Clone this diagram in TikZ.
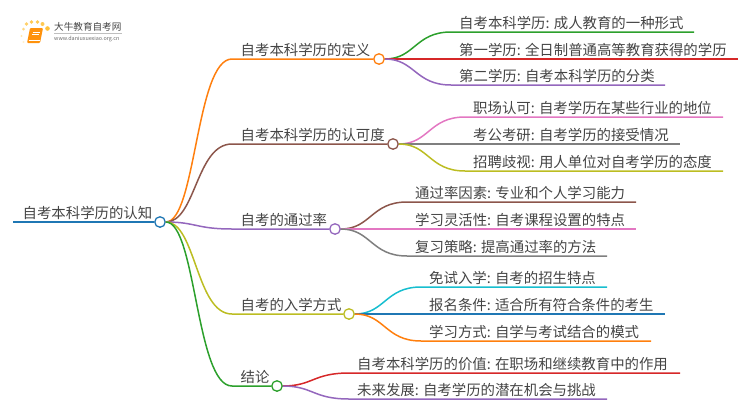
\documentclass[tikz,border=0pt]{standalone}
\usepackage{fontspec}
\setmainfont{Noto Sans CJK SC}
\usetikzlibrary{calc,positioning}
\definecolor{ink}{HTML}{444444}
\definecolor{cblue}{HTML}{1F77B4}
\definecolor{corange}{HTML}{FF7F0E}
\definecolor{cgreen}{HTML}{2CA02C}
\definecolor{cred}{HTML}{D62728}
\definecolor{cpurple}{HTML}{9467BD}
\definecolor{cbrown}{HTML}{8C564B}
\definecolor{cpink}{HTML}{E377C2}
\definecolor{cgray}{HTML}{7F7F7F}
\definecolor{colive}{HTML}{BCBD22}
\definecolor{ccyan}{HTML}{17BECF}
\tikzset{
  hub/.style={circle,draw=#1,fill=white,line width=1.3pt,minimum size=10.5pt,inner sep=0pt},
  label/.style={anchor=base west,inner sep=0pt,text=ink,font=\fontsize{14.4}{17}\selectfont},
  wire/.style={draw=#1,line width=1.5pt}
}
\begin{document}
\begin{tikzpicture}[x=1pt,y=-1pt]
  \useasboundingbox (0,0) rectangle (750,410);
  % logo
  \foreach \dx/\dy/\r/\o in {23.5/29/1.5/.5,26.5/24/1.8/.6,31.5/22/1.9/.7,37.5/22/1.9/.7,42.5/24/2/.7,47.5/28.5/2.3/.8,21.5/36/1.2/.3,23.5/42/1.1/.2}
    \fill[corange!60!yellow,opacity=\o] (\dx,\dy) circle (\r);
  \fill[corange!85!yellow,rounded corners=1pt] (30,28) -- (43,28) -- (40,43) -- (27,43) -- cycle;
  \draw[white,line width=.6pt] (32.5,32) -- (39.5,32) (32,34.5) -- (39,34.5);
  \draw[white,line width=.5pt] (28.5,40.5) -- (39.5,40.5);
  \node[anchor=base west,inner sep=0pt,text=ink,font=\fontsize{9.6}{11}\selectfont] (brand) at (54,30.5) {大牛教育自考网};
  \draw[black!25,line width=.5pt] (54,33.3) -- (122,33.3);
  \node[anchor=base west,inner sep=0pt,text=ink!80,font=\fontsize{5.4}{7}\selectfont] (site) at (54,40.5) {www.daniuxuexiao.org.cn};
  % root and main branches
  \node[hub=cblue] (root) at (160,222) {};
  \coordinate (rootstart) at (13,222);
  \node[label] (roottext) at (22.5,218.5) {自考本科学历的认知};
  \draw[wire=cblue] (rootstart) -- (root.west);
  \foreach \name/\col/\xh/\yh/\xt/\txt in {
    defn/corange/379/59/240.5/自考本科学历的定义,
    accept/cbrown/393/144/240.5/自考本科学历的认可度,
    passrate/cpurple/335/229/240.5/自考的通过率,
    entry/colive/349/314/240.5/自考的入学方式,
    concl/cgreen/277/386/240.5/结论}{
    \node[hub=\col] (\name) at (\xh,\yh) {};
    \coordinate (\name bend) at (232,\yh);
    \node[label] (\name text) at (\xt,\yh-3.5) {\txt};
    \draw[wire=\col] (root.east) .. controls +(30,0) and +(-36,0) .. (\name bend) -- (\name.west);
  }
  % leaves
  \foreach \leaf/\up/\col/\xa/\xb/\yy/\xt/\txt in {
    a/defn/cgreen/451/694/32/459/自考本科学历: 成人教育的一种形式,
    b/defn/cred/451/738/59/459/第一学历: 全日制普通高等教育获得的学历,
    c/defn/cpurple/451/665/85/459/第二学历: 自考本科学历的分类,
    d/accept/cpink/465/723/117/473/职场认可: 自考学历在某些行业的地位,
    e/accept/cgray/465/680/144/473/考公考研: 自考学历的接受情况,
    f/accept/colive/465/723/171/473/招聘歧视: 用人单位对自考学历的态度,
    g/passrate/cbrown/407/636/202/415/通过率因素: 专业和个人学习能力,
    h/passrate/cpink/407/636/229/415/学习灵活性: 自考课程设置的特点,
    i/passrate/cgray/407/607/256/415/复习策略: 提高通过率的方法,
    j/entry/ccyan/421/607/287/429/免试入学: 自考的招生特点,
    k/entry/cblue/421/665/314/429/报名条件: 适合所有符合条件的考生,
    l/entry/corange/421/651/341/429/学习方式: 自学与考试结合的模式,
    m/concl/cred/349/680/373/357/自考本科学历的价值: 在职场和继续教育中的作用,
    n/concl/cpurple/349/607/399/357/未来发展: 自考学历的潜在机会与挑战}{
    \coordinate (\leaf bend) at (\xa,\yy);
    \coordinate (\leaf end) at (\xb,\yy);
    \node[label] (\leaf text) at (\xt,\yy-3.5) {\txt};
    \draw[wire=\col] (\up.east) .. controls +(30,0) and +(-36,0) .. (\leaf bend) -- (\leaf end);
  }
\end{tikzpicture}
\end{document}
